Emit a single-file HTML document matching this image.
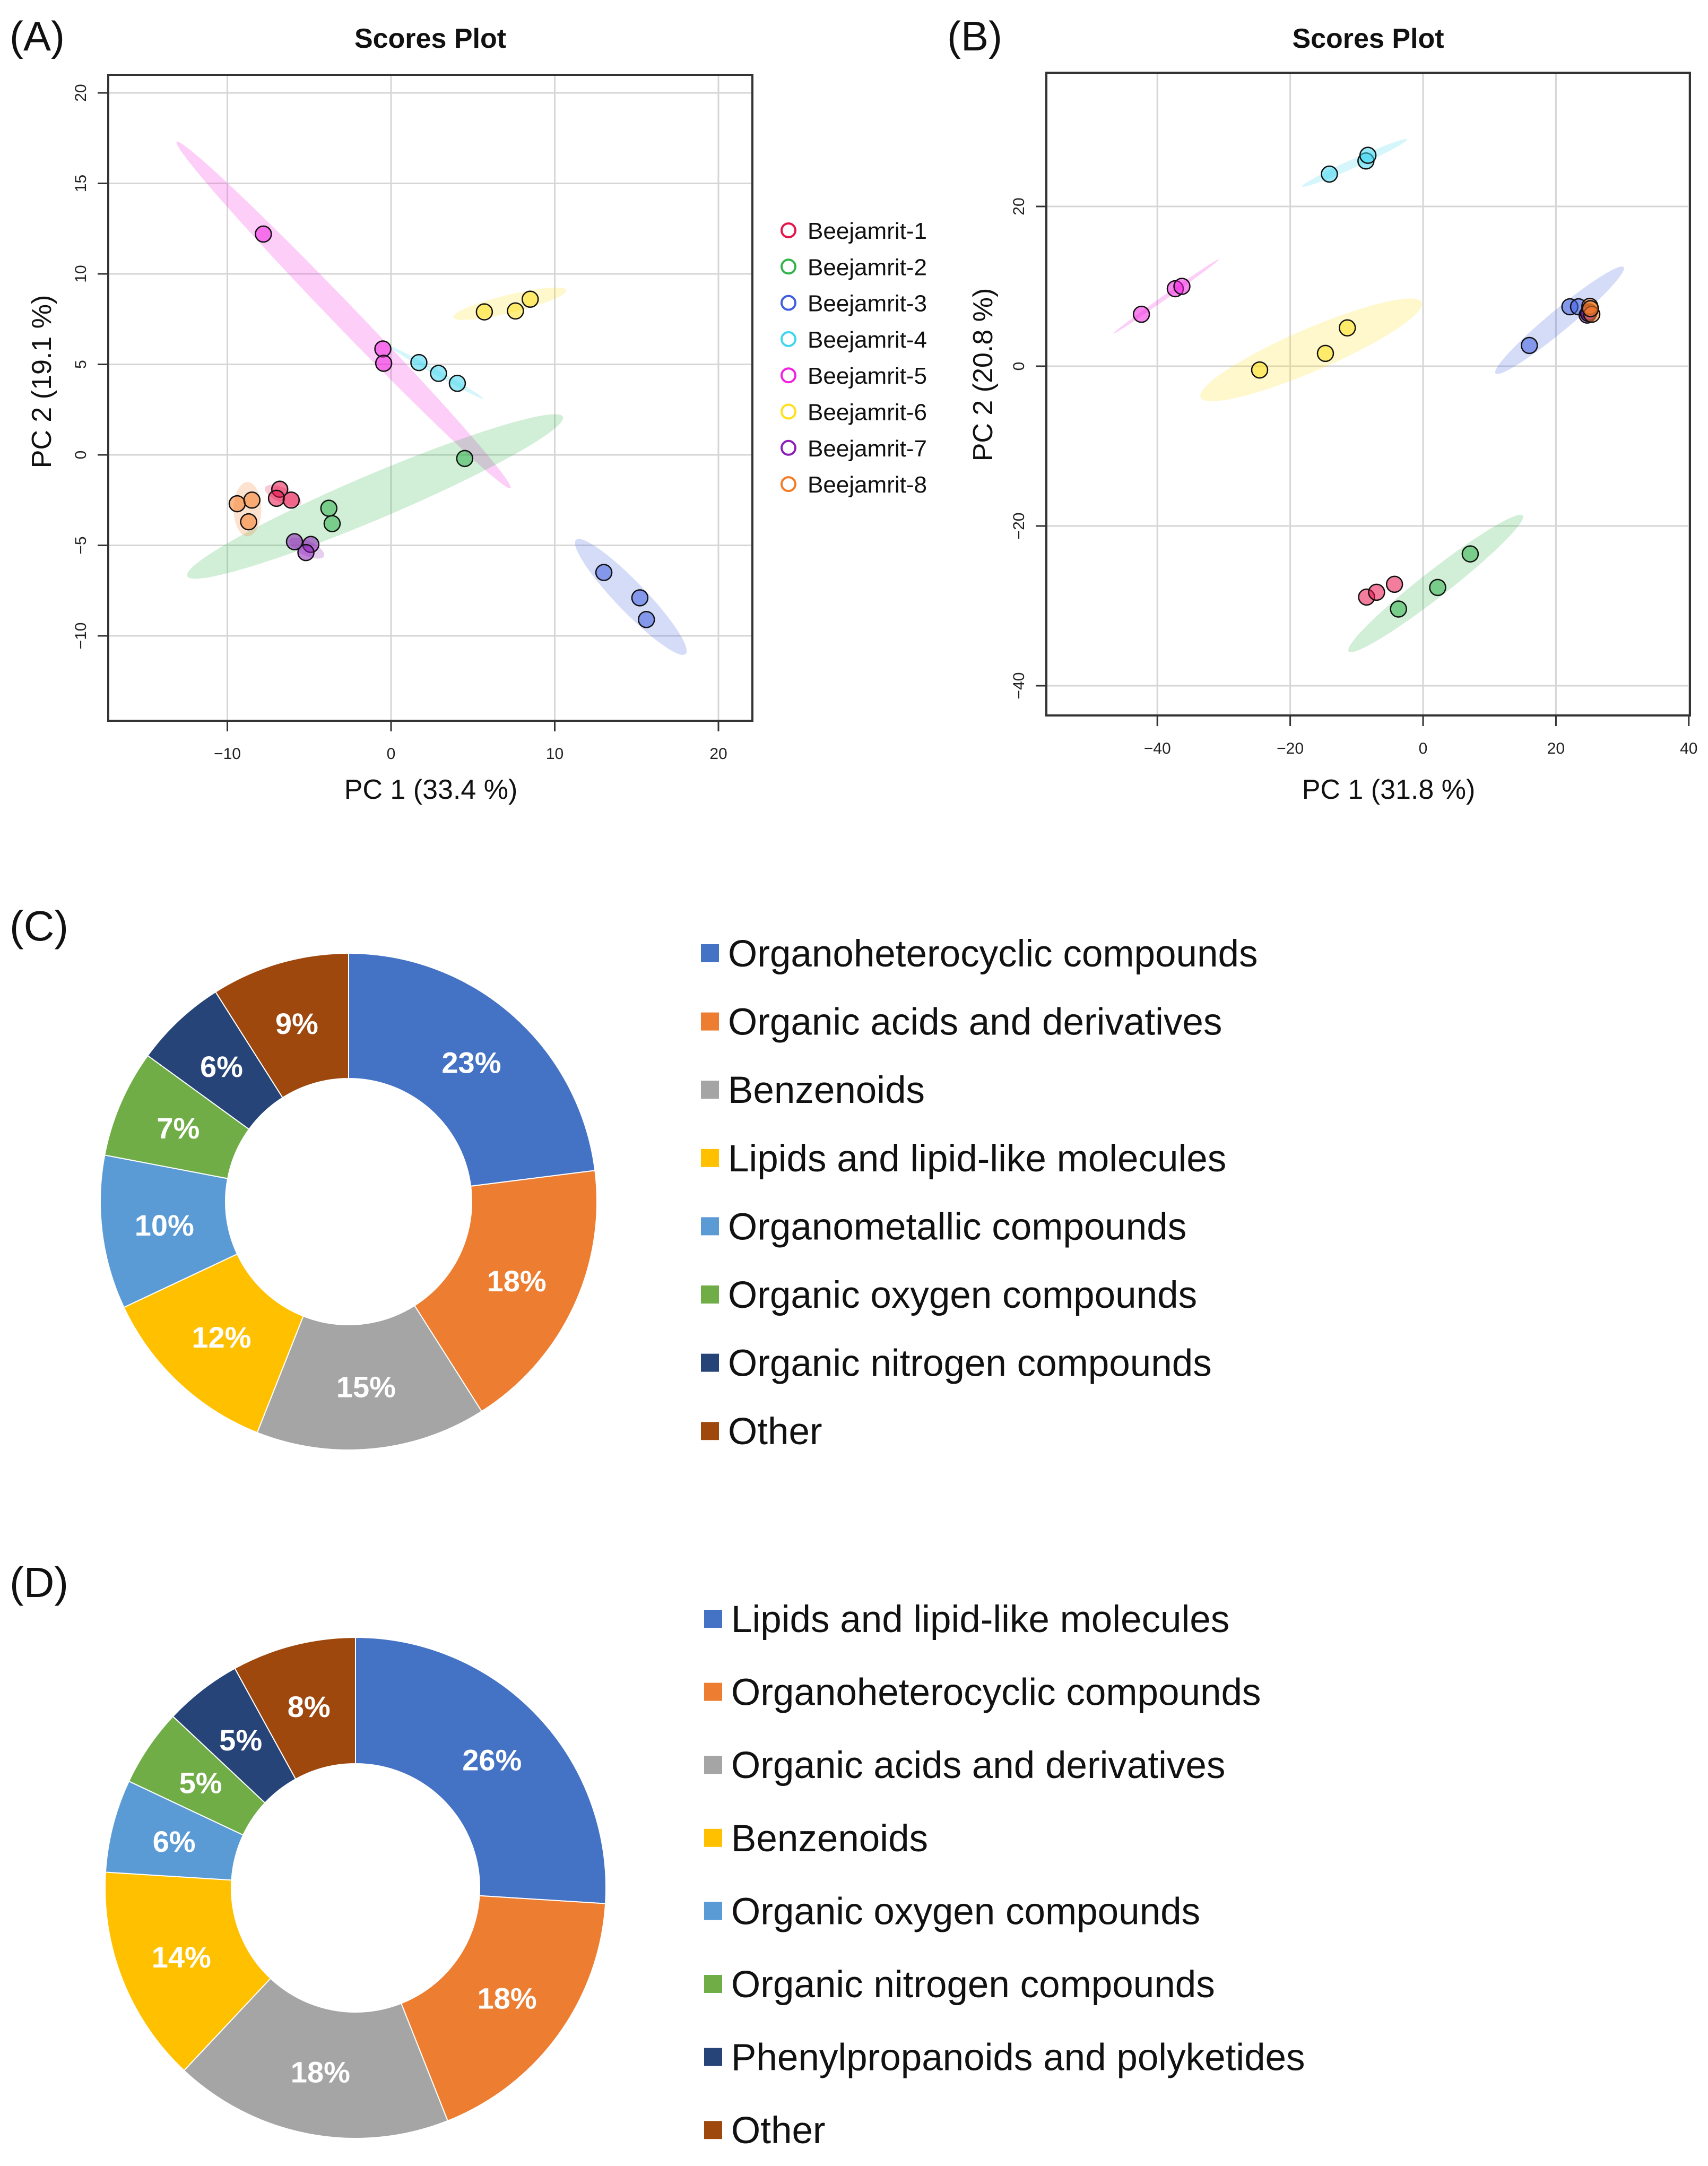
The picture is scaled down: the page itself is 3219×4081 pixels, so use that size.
<!DOCTYPE html>
<html><head><meta charset="utf-8">
<style>
html,body{margin:0;padding:0;background:#fff;}
svg{display:block;font-family:"Liberation Sans",Arial,sans-serif;}
</style></head>
<body>
<svg id="fig" width="3219" height="4081" viewBox="0 0 3219 4081" xmlns="http://www.w3.org/2000/svg">
<rect width="3219" height="4081" fill="#fff"/>
<g id="pA"></g>
<g id="pB"></g>
<g id="pC"></g>
<g id="pD"></g>
</svg>
<script>
// ---------- data ----------
const groups = ["Beejamrit-1","Beejamrit-2","Beejamrit-3","Beejamrit-4","Beejamrit-5","Beejamrit-6","Beejamrit-7","Beejamrit-8"];
const groupColors = ["#e8124a","#2fb34a","#3f5ee0","#3fd6ee","#f020e0","#ffe01a","#8c1fb8","#f57c26"];
// panel A scores: [group, PC1, PC2]
const scoresA_g = [0,0,0, 1,1,1, 2,2,2, 3,3,3, 4,4,4, 5,5,5, 6,6,6, 7,7,7];
const scoresA_x = [-6.8,-7.0,-6.1, -3.8,-3.6,4.5, 13.0,15.2,15.6, 1.7,2.9,4.05, -7.8,-0.5,-0.45, 5.7,7.6,8.5, -5.9,-4.9,-5.2, -9.4,-8.5,-8.7];
const scoresA_y = [-1.9,-2.4,-2.5, -2.95,-3.8,-0.2, -6.5,-7.9,-9.1, 5.1,4.5,3.95, 12.2,5.85,5.06, 7.9,7.95,8.6, -4.8,-4.95,-5.4, -2.7,-2.5,-3.7];
// confidence ellipses A: group, endpoints of major axis (data), half-width (px)
const ellA_g = [4,1,2,5,3,6,0,7];
const ellA_x1 = [-13.1,-12.45,11.3,3.8,-0.1,-6.2,-7.7,-8.77];
const ellA_y1 = [17.3,-6.7,-4.7,7.6,6.0,-4.7,-1.8,-1.5];
const ellA_x2 = [7.3,10.5,18.0,10.7,5.65,-4.1,-5.5,-8.77];
const ellA_y2 = [-1.84,2.1,-11.0,9.1,3.1,-5.6,-2.7,-4.5];
const ellA_w = [22,42,28,17,5,14,14,26];
// panel B
const scoresB_g = [3,3,3, 4,4,4, 5,5,5, 2,2,2, 6,6,6, 7,7,7, 0,0,0, 1,1,1];
const scoresB_x = [-14.1,-8.6,-8.3, -42.4,-37.3,-36.3, -24.6,-14.7,-11.4, 16.0,22.1,23.4, 24.7,25.0,24.9, 25.1,25.4,25.2, -8.5,-7.0,-4.3, -3.7,2.2,7.1];
const scoresB_y = [24.05,25.7,26.4, 6.5,9.7,10.0, -0.47,1.6,4.8, 2.6,7.44,7.44, 6.4,6.8,6.6, 7.5,6.5,7.2, -28.9,-28.3,-27.3, -30.4,-27.7,-23.5];
const ellB_g = [3,4,5,2,1];
const ellB_x1 = [-18.2,-46.6,-33.5,10.9,-11.2];
const ellB_y1 = [22.5,4.1,-3.9,-0.9,-35.7];
const ellB_x2 = [-2.4,-30.7,-0.2,30.2,15.0];
const ellB_y2 = [28.4,13.4,8.0,12.4,-18.7];
const ellB_w = [8,4,40,20,25];
// donuts
const catsC = ["Organoheterocyclic compounds","Organic acids and derivatives","Benzenoids","Lipids and lipid-like molecules","Organometallic compounds","Organic oxygen compounds","Organic nitrogen compounds","Other"];
const valsC = [23,18,15,12,10,7,6,9];
const catsD = ["Lipids and lipid-like molecules","Organoheterocyclic compounds","Organic acids and derivatives","Benzenoids","Organic oxygen compounds","Organic nitrogen compounds","Phenylpropanoids and polyketides","Other"];
const valsD = [26,18,18,14,6,5,5,8];
const sliceColors = ["#4472c4","#ed7d31","#a5a5a5","#ffc000","#5b9bd5","#70ad47","#264478","#9e480e"];
const ticksAx = [-10,0,10,20], ticksAy = [-10,-5,0,5,10,15,20];
const ticksBx = [-40,-20,0,20,40], ticksBy = [-40,-20,0,20];

const NS="http://www.w3.org/2000/svg";
function mk(tag, attrs, parent){const e=document.createElementNS(NS,tag);for(const k in attrs)e.setAttribute(k,attrs[k]);parent.appendChild(e);return e;}
function hexA(h,a){const r=parseInt(h.slice(1,3),16),g=parseInt(h.slice(3,5),16),b=parseInt(h.slice(5,7),16);return `rgba(${r},${g},${b},${a})`;}

function scatter(g, cfg){
  const X=v=>cfg.x0+v*cfg.xs, Y=v=>cfg.y0-v*cfg.ys;
  cfg.tx.forEach(t=>{const l=mk('line',{x1:X(t),x2:X(t),y1:cfg.top,y2:cfg.bot,stroke:'#d6d6d6','stroke-width':3},g);
    
    });
  cfg.ty.forEach(t=>{const l=mk('line',{x1:cfg.left,x2:cfg.right,y1:Y(t),y2:Y(t),stroke:'#d6d6d6','stroke-width':3},g);
    
    });
  for(let i=0;i<cfg.eg.length;i++){
    const ax=X(cfg.ex1[i]),ay=Y(cfg.ey1[i]),bx=X(cfg.ex2[i]),by=Y(cfg.ey2[i]);
    const cx=(ax+bx)/2,cy=(ay+by)/2,rx=Math.hypot(bx-ax,by-ay)/2,ang=Math.atan2(by-ay,bx-ax)*180/Math.PI;
    const e=mk('ellipse',{cx:cx,cy:cy,rx:rx,ry:cfg.ew[i],transform:`rotate(${ang} ${cx} ${cy})`,fill:hexA(groupColors[cfg.eg[i]],0.22)},g);
    
    
  }
  for(let i=0;i<cfg.px.length;i++){
    const c=mk('circle',{cx:X(cfg.px[i]),cy:Y(cfg.py[i]),r:15,fill:hexA(groupColors[cfg.pg[i]],0.55),stroke:'#111','stroke-width':2.5},g);
    
    
  }
  const b=mk('rect',{x:cfg.left,y:cfg.top,width:cfg.right-cfg.left,height:cfg.bot-cfg.top,fill:'none',stroke:'#333','stroke-width':4},g);
  
  
  cfg.tx.forEach(t=>{mk('line',{x1:X(t),x2:X(t),y1:cfg.bot,y2:cfg.bot+20,stroke:'#333','stroke-width':3},g);
    const tl=mk('text',{x:X(t),y:cfg.bot+72,'text-anchor':'middle','font-size':30,fill:'#222'},g);tl.textContent=t<0?'\u2212'+(-t):t;
    
    });
  cfg.ty.forEach(t=>{mk('line',{x1:cfg.left-20,x2:cfg.left,y1:Y(t),y2:Y(t),stroke:'#333','stroke-width':3},g);
    const tl=mk('text',{x:0,y:0,transform:`translate(${cfg.left-42} ${Y(t)}) rotate(-90)`,'text-anchor':'middle','font-size':30,fill:'#222'},g);tl.textContent=t<0?'\u2212'+(-t):t;
    
    });
  const tt=mk('text',{x:(cfg.left+cfg.right)/2,y:90,'text-anchor':'middle','font-size':52,'font-weight':'bold',fill:'#111'},g);tt.textContent='Scores Plot';
  
  
  const xl=mk('text',{x:cfg.xlx,y:1505,'text-anchor':'middle','font-size':52,fill:'#111'},g);xl.textContent=cfg.xlab;
  
  
  const yl=mk('text',{x:0,y:0,transform:`translate(${cfg.ylx} ${cfg.yly}) rotate(-90)`,'text-anchor':'middle','font-size':52,fill:'#111'},g);yl.textContent=cfg.ylab;
  
  
  const pl=mk('text',{x:cfg.plx,y:95,'font-size':78,fill:'#111'},g);pl.textContent=cfg.panel;
  
  
}
scatter(document.getElementById('pA'),{x0:737,xs:30.85,y0:857,ys:34.1,left:204,right:1418,top:141,bot:1358,
  tx:ticksAx,ty:ticksAy,px:scoresA_x,py:scoresA_y,pg:scoresA_g,eg:ellA_g,ex1:ellA_x1,ey1:ellA_y1,ex2:ellA_x2,ey2:ellA_y2,ew:ellA_w,
  xlab:'PC 1 (33.4 %)',xlx:812,ylab:'PC 2 (19.1 %)',ylx:96,yly:719,panel:'(A)',plx:18});
scatter(document.getElementById('pB'),{x0:2682,xs:12.52,y0:690,ys:15.05,left:1972,right:3185,top:137,bot:1348,
  tx:ticksBx,ty:ticksBy,px:scoresB_x,py:scoresB_y,pg:scoresB_g,eg:ellB_g,ex1:ellB_x1,ey1:ellB_y1,ex2:ellB_x2,ey2:ellB_y2,ew:ellB_w,
  xlab:'PC 1 (31.8 %)',xlx:2617,ylab:'PC 2 (20.8 %)',ylx:1870,yly:706,panel:'(B)',plx:1785});
(function(){const g=document.getElementById('pA');
  groups.forEach((n,i)=>{const y=434+i*68.3;
    const c=mk('circle',{cx:1486,cy:y,r:13,fill:'none',stroke:groupColors[i],'stroke-width':4},g);
    
    
    const t=mk('text',{x:1522,y:y+16,'font-size':44,fill:'#111'},g);t.textContent=n;
    
    });})();

function donut(g,cats,vals,cx,cy,R,r,ly0,lstep,lx,panel,py){
  const total=vals.reduce((a,b)=>a+b,0);let a0=0;
  vals.forEach((v,i)=>{const a1=a0+v/total*2*Math.PI;
    const p=(a,rr)=>[cx+rr*Math.sin(a),cy-rr*Math.cos(a)];
    const [x1,y1]=p(a0,R),[x2,y2]=p(a1,R),[x3,y3]=p(a1,r),[x4,y4]=p(a0,r);const lg=(a1-a0)>Math.PI?1:0;
    const s=mk('path',{d:`M${x1},${y1}A${R},${R} 0 ${lg} 1 ${x2},${y2}L${x3},${y3}A${r},${r} 0 ${lg} 0 ${x4},${y4}Z`,fill:sliceColors[i],stroke:'#fff','stroke-width':2},g);
    
    
    const am=(a0+a1)/2,[lxp,lyp]=p(am,(R+r)/2);
    const t=mk('text',{x:lxp,y:lyp+20,'text-anchor':'middle','font-size':56,'font-weight':'bold',fill:'#fff'},g);t.textContent=v+'%';
    
    
    a0=a1;});
  cats.forEach((n,i)=>{const y=ly0+i*lstep;
    const s=mk('rect',{x:lx,y:y-17,width:34,height:34,fill:sliceColors[i]},g);
    
    
    const t=mk('text',{x:lx+51,y:y+25,'font-size':71,fill:'#111'},g);t.textContent=n;
    
    });
  const pl=mk('text',{x:18,y:py,'font-size':80,fill:'#111'},g);pl.textContent=panel;
  
  
}
donut(document.getElementById('pC'),catsC,valsC,657,2264,468,232,1796,128.6,1321,'(C)',1772);
donut(document.getElementById('pD'),catsD,valsD,670,3557,472,234,3050,137.6,1327,'(D)',3009);
</script>
</body></html>
